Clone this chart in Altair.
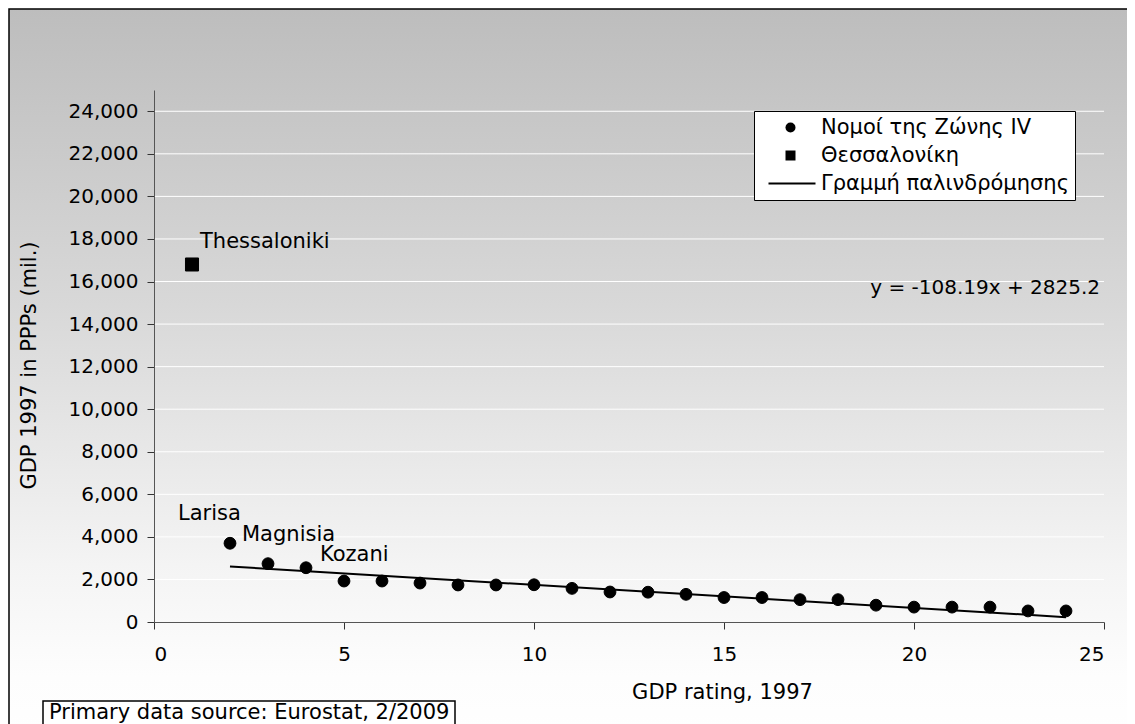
import altair as alt
import pandas as pd

# ---- data ----
zone_ranks = list(range(2, 25))
zone_gdp = [3700, 2740, 2550, 1925, 1925, 1830, 1740, 1740, 1750, 1580, 1410,
            1400, 1300, 1150, 1150, 1050, 1050, 790, 700, 700, 700, 520, 520]
thess_rank = [1]
thess_gdp = [16800]

series_names = ["Νομοί της Ζώνης IV", "Θεσσαλονίκη", "Γραμμή παλινδρόμησης"]

# regression line y = -108.19x + 2825.2 over the Zone IV ranks
reg_slope = -108.19
reg_intercept = 2825.2
reg_x = [2, 24]

label_names = ["Thessaloniki", "Larisa", "Magnisia", "Kozani"]
label_ranks = [1, 2, 3, 4]
label_dx = [8, -52, -26, 14]
label_dy = [-22, -29, -29, -13]

y_ticks = list(range(0, 24001, 2000))
grid_vals = list(range(2000, 24001, 2000))
x_ticks = [0, 5, 10, 15, 20, 25]

FONT = "DejaVu Sans"
FS_TICK = 20
FS = 21
W, H = 950, 532

# legend symbol for the regression line: a thin horizontal bar
LINE_SYMBOL = "M-4.4,-0.18L5,-0.18L5,0.18L-4.4,0.18Z"

points = pd.DataFrame(
    {"rank": zone_ranks + thess_rank,
     "gdp": zone_gdp + thess_gdp,
     "series": [series_names[0]] * len(zone_ranks) + [series_names[1]] * len(thess_rank)}
)
line_df = pd.DataFrame({"rank": reg_x,
                        "gdp": [reg_slope * x + reg_intercept for x in reg_x]})
lookup = dict(zip(points["rank"], points["gdp"]))
labels_df = pd.DataFrame({"name": label_names, "rank": label_ranks,
                          "gdp": [lookup[r] for r in label_ranks]})
grid_df = pd.DataFrame({"g": grid_vals})
eq_df = pd.DataFrame({"rank": [25], "gdp": [15700],
                      "txt": [f"y = {reg_slope}x + {reg_intercept}"]})

xscale = alt.Scale(domain=[0, 25], nice=False)
yscale = alt.Scale(domain=[0, 25000], nice=False)

gradient = {"gradient": "linear", "x1": 0, "y1": 0, "x2": 0, "y2": 1,
            "stops": [{"offset": 0, "color": "#bdbdbd"},
                      {"offset": 0.4, "color": "#d8d8d8"},
                      {"offset": 0.75, "color": "#f4f4f4"},
                      {"offset": 0.9, "color": "#fdfdfd"},
                      {"offset": 1, "color": "#ffffff"}]}

bg = alt.Chart(pd.DataFrame({"a": [0]})).mark_rect(
    fill=gradient, stroke="black", strokeWidth=1.5
).encode(x=alt.value(-145), x2=alt.value(990), y=alt.value(-81), y2=alt.value(660))

x_axis = alt.Axis(values=x_ticks, grid=False, title="GDP rating, 1997",
                  labelFontSize=FS_TICK, titleFontSize=FS, labelFont=FONT, titleFont=FONT,
                  titleFontWeight="normal", labelColor="black", titleColor="black",
                  tickSize=7, tickColor="#333", domainColor="#555", labelPadding=15,
                  titleX=568, titleY=70, titleAlign="center", titleBaseline="middle",
                  zindex=1)
y_axis = alt.Axis(values=y_ticks, grid=False, title="GDP 1997 in PPPs (mil.)", format=",d",
                  labelFontSize=FS_TICK, titleFontSize=FS, labelFont=FONT, titleFont=FONT,
                  titleFontWeight="normal", labelColor="black", titleColor="black",
                  tickSize=7, tickColor="#333", domainColor="#555", labelPadding=9,
                  titleX=-125, titleY=275, titleAlign="center", titleBaseline="middle",
                  zindex=1)

grid = alt.Chart(grid_df).mark_rule(color="white", strokeWidth=1).encode(
    y=alt.Y("g:Q", scale=yscale, axis=y_axis)
)

reg_line = alt.Chart(line_df).mark_line(color="black", strokeWidth=2).encode(
    x=alt.X("rank:Q", scale=xscale, axis=x_axis),
    y=alt.Y("gdp:Q", scale=yscale, axis=y_axis),
)

pts = alt.Chart(points).mark_point(filled=False, opacity=1, fill="black", stroke="black",
                                   fillOpacity=1, strokeWidth=1).encode(
    x=alt.X("rank:Q", scale=xscale, axis=x_axis),
    y=alt.Y("gdp:Q", scale=yscale, axis=y_axis),
    shape=alt.Shape("series:N",
                    scale=alt.Scale(domain=series_names,
                                    range=["circle", "square", LINE_SYMBOL]),
                    legend=alt.Legend(title=None, orient="none", legendX=600, legendY=21,
                                      labelFontSize=FS, labelFont=FONT, labelColor="black",
                                      symbolSize=100, symbolFillColor="black",
                                      symbolStrokeColor="black", symbolStrokeWidth=0,
                                      symbolOpacity=1,
                                      symbolOffset=20, labelOffset=20, rowPadding=6,
                                      padding=6, fillColor="white", strokeColor="black",
                                      labelLimit=400)),
    size=alt.condition(alt.datum.series == series_names[1], alt.value(170), alt.value(140)),
)

label_layers = []
for i, nm in enumerate(label_names):
    label_layers.append(
        alt.Chart(labels_df).transform_filter(alt.datum.name == nm).mark_text(
            align="left", baseline="middle", fontSize=FS, font=FONT, color="black",
            dx=label_dx[i], dy=label_dy[i]
        ).encode(x=alt.X("rank:Q", scale=xscale), y=alt.Y("gdp:Q", scale=yscale),
                 text="name:N")
    )

eq = alt.Chart(eq_df).mark_text(align="right", baseline="middle", fontSize=FS_TICK,
                                font=FONT, color="black", dx=-4).encode(
    x=alt.X("rank:Q", scale=xscale), y=alt.Y("gdp:Q", scale=yscale), text="txt:N")

src_box = alt.Chart(pd.DataFrame({"a": [0]})).mark_rect(
    fill="white", stroke="black", strokeWidth=1.5
).encode(x=alt.value(-111), x2=alt.value(301), y=alt.value(611), y2=alt.value(660))
src_txt = alt.Chart(pd.DataFrame({"t": ["Primary data source: Eurostat, 2/2009"]})).mark_text(
    align="left", baseline="middle", fontSize=FS, font=FONT, color="black"
).encode(x=alt.value(-105), y=alt.value(623), text="t:N")

chart = alt.layer(bg, grid, reg_line, pts, *label_layers, eq, src_box, src_txt).properties(
    width=W, height=H,
    autosize=alt.AutoSizeParams(type="none"),
    padding={"left": 146, "top": 82, "right": 23, "bottom": 120},
).configure_view(stroke=None, fill=None).configure(background="white")

chart.save("out.html", embed_options={"renderer": "svg", "actions": False})
